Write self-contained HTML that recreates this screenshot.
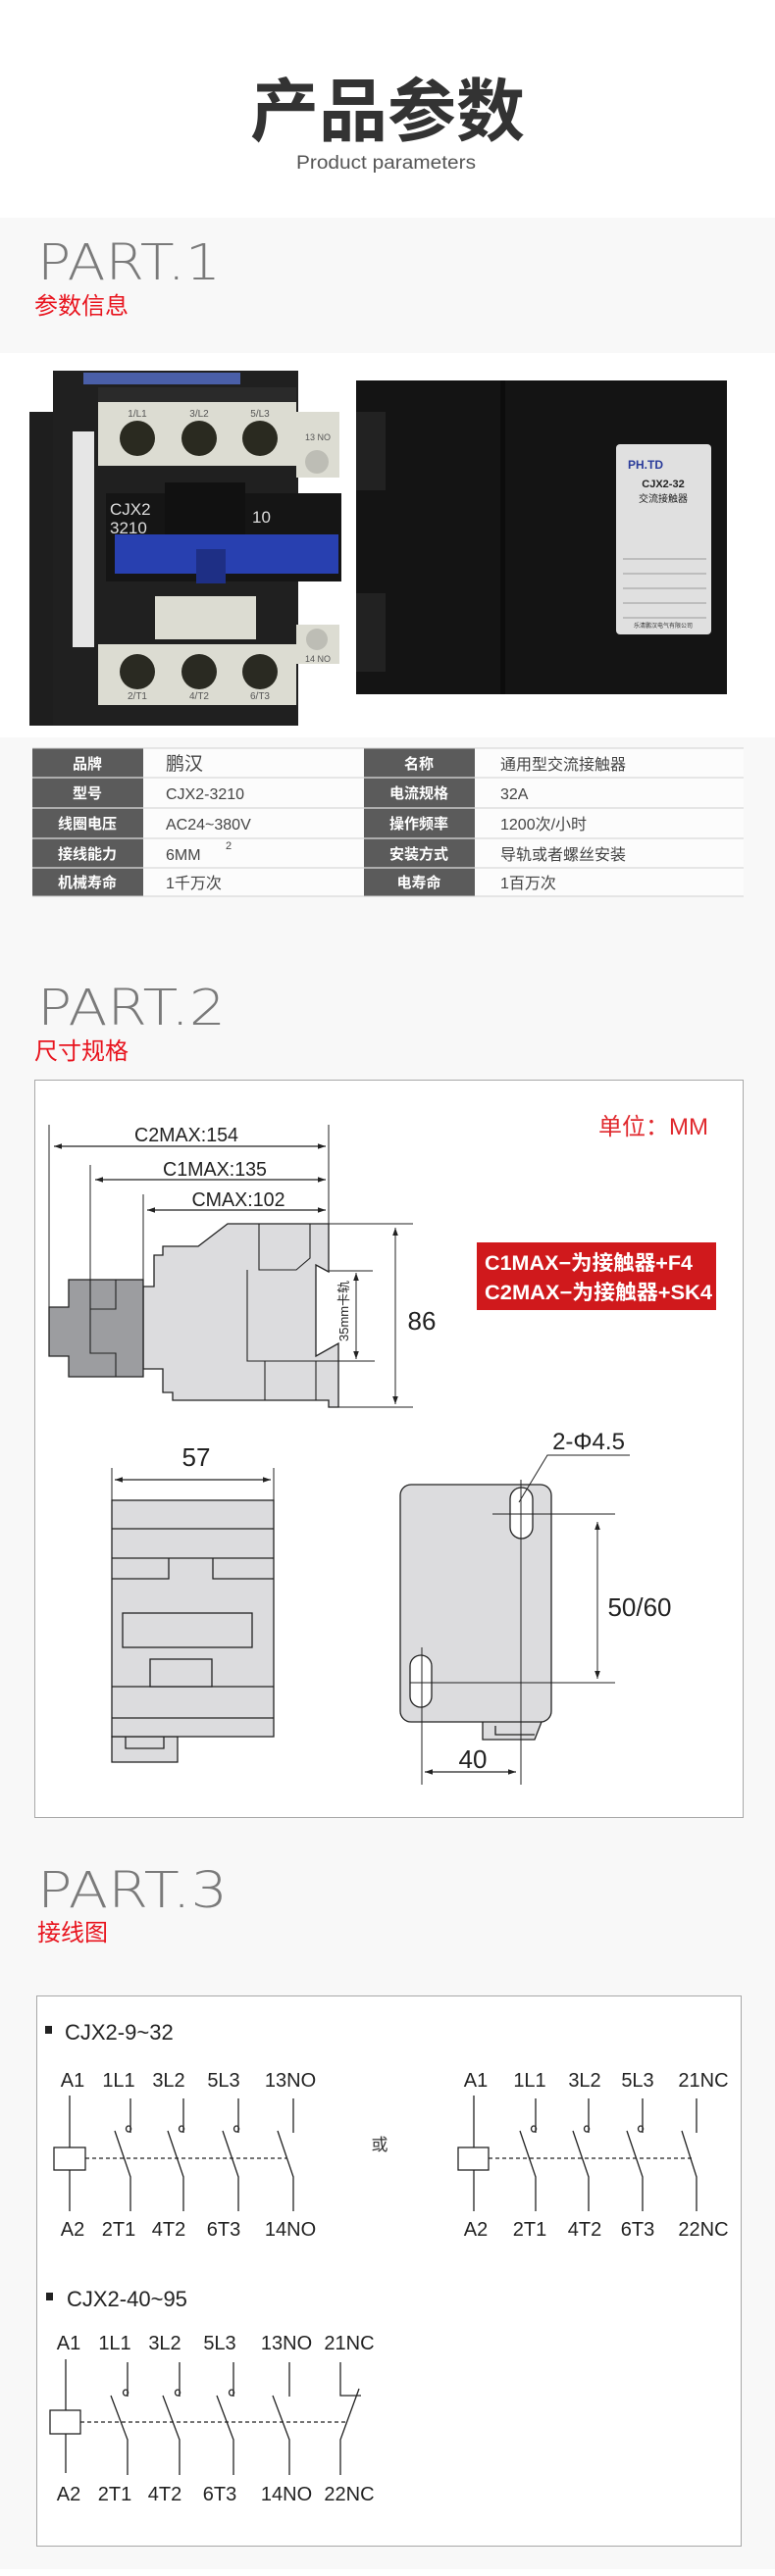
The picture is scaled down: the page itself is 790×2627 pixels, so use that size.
<!DOCTYPE html>
<html><head><meta charset="utf-8">
<style>
html,body{margin:0;padding:0;background:#fff;}
svg{display:block;}
.n{font-family:"Liberation Sans",Arial,sans-serif;}
.c{font-family:"Liberation Sans","Noto Sans CJK SC",sans-serif;}
.p{font-family:"DejaVu Sans","Liberation Sans",sans-serif;font-weight:200;}
</style></head>
<body>
<svg width="790" height="2627" viewBox="0 0 790 2627" xmlns="http://www.w3.org/2000/svg">
<defs>
<marker id="ar" viewBox="0 0 10 10" refX="10" refY="5" markerWidth="14" markerHeight="8" orient="auto-start-reverse" markerUnits="userSpaceOnUse"><path d="M0,1.5 L10,5 L0,8.5 z" fill="#222"/></marker>
</defs>
<rect x="0" y="0" width="790" height="2627" fill="#fff"/>
<rect x="0" y="222" width="790" height="2398" fill="#f8f8f8"/>

<text x="395" y="138" text-anchor="middle" class="c" font-size="70" font-weight="bold" fill="#333">产品参数</text>
<text x="302" y="172" textLength="183" lengthAdjust="spacingAndGlyphs" class="c" font-size="19" fill="#555">Product parameters</text>

<text x="38" y="285" textLength="187" lengthAdjust="spacingAndGlyphs" class="p" font-size="51" fill="#7a7a7a">PART.1</text>
<text x="35" y="320" class="c" font-size="24" fill="#e8141e">参数信息</text>

<rect x="0" y="360" width="790" height="392" fill="#fff"/>
<g>
 <rect x="30" y="420" width="28" height="320" fill="#1e1e1e"/>
 <rect x="54" y="378" width="250" height="362" fill="#202020"/>
 <rect x="74" y="440" width="22" height="220" fill="#e6e6e6"/>
 <rect x="85" y="380" width="160" height="12" fill="#4a5fa8"/>
 <rect x="100" y="395" width="202" height="15" fill="#2a2a2a"/>
 <rect x="100" y="410" width="202" height="65" fill="#dcdcd2"/>
 <text x="140" y="425" text-anchor="middle" class="c" font-size="10" fill="#555">1/L1</text>
 <text x="203" y="425" text-anchor="middle" class="c" font-size="10" fill="#555">3/L2</text>
 <text x="265" y="425" text-anchor="middle" class="c" font-size="10" fill="#555">5/L3</text>
 <circle cx="140" cy="447" r="18" fill="#2a2a20"/><circle cx="203" cy="447" r="18" fill="#2a2a20"/><circle cx="265" cy="447" r="18" fill="#2a2a20"/>
 <rect x="302" y="420" width="44" height="67" fill="#dcdcd2"/>
 <text x="324" y="449" text-anchor="middle" class="c" font-size="9" fill="#555">13 NO</text>
 <circle cx="323" cy="471" r="12" fill="#bdbdb5"/>
 <rect x="108" y="503" width="240" height="90" fill="#151515"/>
 <rect x="168" y="492" width="82" height="60" fill="#111"/>
 <text x="112" y="525" class="c" font-size="17" fill="#ddd">CJX2</text>
 <text x="112" y="544" class="c" font-size="17" fill="#ddd">3210</text>
 <text x="257" y="533" class="c" font-size="17" fill="#ddd">10</text>
 <rect x="117" y="545" width="228" height="40" fill="#2840b0"/>
 <rect x="200" y="560" width="30" height="35" fill="#1e2f85"/>
 <rect x="158" y="608" width="103" height="44" fill="#dcdcd2"/>
 <rect x="100" y="657" width="202" height="62" fill="#dcdcd2"/>
 <circle cx="140" cy="685" r="18" fill="#2a2a22"/><circle cx="203" cy="685" r="18" fill="#2a2a22"/><circle cx="265" cy="685" r="18" fill="#2a2a22"/>
 <text x="140" y="713" text-anchor="middle" class="c" font-size="10" fill="#555">2/T1</text>
 <text x="203" y="713" text-anchor="middle" class="c" font-size="10" fill="#555">4/T2</text>
 <text x="265" y="713" text-anchor="middle" class="c" font-size="10" fill="#555">6/T3</text>
 <rect x="302" y="637" width="44" height="40" fill="#dcdcd2"/>
 <circle cx="323" cy="652" r="11" fill="#bdbdb5"/>
 <text x="324" y="675" text-anchor="middle" class="c" font-size="9" fill="#555">14 NO</text>
 <rect x="363" y="388" width="378" height="320" fill="#141414"/>
 <rect x="363" y="420" width="30" height="80" fill="#222"/>
 <rect x="363" y="605" width="30" height="80" fill="#222"/>
 <rect x="510" y="388" width="5" height="320" fill="#0c0c0c"/>
 <rect x="628" y="453" width="97" height="194" rx="4" fill="#e0e0e0"/>
 <text x="640" y="478" class="c" font-size="12" font-weight="bold" fill="#2a3b9a">PH.TD</text>
 <text x="676" y="497" text-anchor="middle" class="c" font-size="11" font-weight="bold" fill="#222">CJX2-32</text>
 <text x="676" y="512" text-anchor="middle" class="c" font-size="10" fill="#222">交流接触器</text>
 <path d="M635 570 H720 M635 585 H720 M635 600 H720 M635 615 H720 M635 630 H720" stroke="#555" stroke-width="0.6"/>
 <text x="676" y="640" text-anchor="middle" class="c" font-size="6" fill="#333">乐清鹏汉电气有限公司</text>
</g>

<g class="c">
 <rect x="33" y="763" width="113" height="151" fill="#5b5b5b"/>
 <rect x="371" y="763" width="113" height="151" fill="#5b5b5b"/>
 <rect x="146" y="763" width="225" height="151" fill="#fcfcfc"/>
 <rect x="484" y="763" width="274" height="151" fill="#fcfcfc"/>
 <path d="M33 763 H758 M33 793 H758 M33 824 H758 M33 855 H758 M33 885 H758 M33 914 H758" stroke="#cfcfcf" stroke-width="1"/>
 <path d="M33 793 H146 M33 824 H146 M33 855 H146 M33 885 H146 M371 793 H484 M371 824 H484 M371 855 H484 M371 885 H484" stroke="#fff" stroke-width="1"/>
 <g font-size="15" font-weight="bold" fill="#fff" text-anchor="middle">
  <text x="89" y="784">品牌</text><text x="89" y="814">型号</text><text x="89" y="845">线圈电压</text><text x="89" y="876">接线能力</text><text x="89" y="905">机械寿命</text>
  <text x="427" y="784">名称</text><text x="427" y="814">电流规格</text><text x="427" y="845">操作频率</text><text x="427" y="876">安装方式</text><text x="427" y="905">电寿命</text>
 </g>
 <g font-size="16" fill="#444">
  <text x="169" y="785" font-size="19">鹏汉</text><text x="169" y="815">CJX2-3210</text><text x="169" y="846">AC24~380V</text><text x="169" y="877">6MM</text><text x="230" y="866" font-size="11">2</text><text x="169" y="906">1千万次</text>
  <text x="510" y="785">通用型交流接触器</text><text x="510" y="815">32A</text><text x="510" y="846">1200次/小时</text><text x="510" y="877">导轨或者螺丝安装</text><text x="510" y="906">1百万次</text>
 </g>
</g>

<text x="38" y="1045" textLength="192" lengthAdjust="spacingAndGlyphs" class="p" font-size="51" fill="#7a7a7a">PART.2</text>
<text x="35" y="1080" class="c" font-size="24" fill="#e8141e">尺寸规格</text>
<rect x="35.5" y="1101.5" width="722" height="752" fill="#fff" stroke="#a8a8a8" stroke-width="1"/>

<g stroke="#222" stroke-width="1" fill="none">
 <path d="M50 1147 V1333 M92 1188 V1305 M146 1218 V1312 M335 1147 V1248"/>
 <path d="M232 1248 H421 M335 1435 H421 M335 1296 H380 M345 1388 H382"/>
 <path d="M55 1169 H332" marker-start="url(#ar)" marker-end="url(#ar)" stroke-width="1.2"/>
 <path d="M97 1203 H332" marker-start="url(#ar)" marker-end="url(#ar)" stroke-width="1.2"/>
 <path d="M150 1234 H332" marker-start="url(#ar)" marker-end="url(#ar)" stroke-width="1.2"/>
 <path d="M403 1252 V1432" marker-start="url(#ar)" marker-end="url(#ar)"/>
 <path d="M363 1298 V1386" marker-start="url(#ar)" marker-end="url(#ar)"/>
</g>
<g class="n" font-size="20" fill="#222" text-anchor="middle">
 <text x="190" y="1164" textLength="106" lengthAdjust="spacingAndGlyphs">C2MAX:154</text>
 <text x="219" y="1199" textLength="106" lengthAdjust="spacingAndGlyphs">C1MAX:135</text>
 <text x="243" y="1230" textLength="95" lengthAdjust="spacingAndGlyphs">CMAX:102</text>
</g>
<polygon points="146,1312 157,1312 157,1280 166,1280 166,1271 202,1271 232,1248 335,1248 335,1297 322,1290 322,1383 345,1370 345,1435 335,1435 335,1428 176,1428 176,1420 166,1420 166,1396 146,1396" fill="#dcdcde" stroke="#222" stroke-width="1.3"/>
<path d="M264 1248 V1295 H302 L316 1283 V1248 M252 1295 V1388 H345 M270 1388 V1428 M322 1388 V1428" fill="none" stroke="#222" stroke-width="1.1"/>
<polygon points="70,1305 146,1305 146,1404 70,1404 70,1383 50,1383 50,1333 70,1333" fill="#9c9da0" stroke="#222" stroke-width="1.3"/>
<path d="M92 1305 V1380 H118 V1404 M118 1305 V1335 H92" fill="none" stroke="#222" stroke-width="1.1"/>
<text x="0" y="0" transform="translate(355,1368) rotate(-90)" class="c" font-size="13" fill="#222">35mm卡轨</text>
<text x="430" y="1356" text-anchor="middle" class="n" font-size="26" fill="#222">86</text>
<text x="610" y="1157" class="c" font-size="24" fill="#e0282d">单位：MM</text>
<rect x="486" y="1267" width="244" height="69" fill="#d0191c"/>
<text x="494" y="1295" textLength="212" lengthAdjust="spacingAndGlyphs" class="c" font-size="21" font-weight="bold" fill="#fff">C1MAX−为接触器+F4</text>
<text x="494" y="1325" textLength="232" lengthAdjust="spacingAndGlyphs" class="c" font-size="21" font-weight="bold" fill="#fff">C2MAX−为接触器+SK4</text>

<g stroke="#222" stroke-width="1.3" fill="#dcdcde">
 <rect x="114" y="1771" width="67" height="26"/>
 <rect x="114" y="1530" width="165" height="241"/>
 <path d="M114 1559 H279 M114 1589 H279 M114 1720 H279 M114 1752 H279" fill="none"/>
 <path d="M114 1610 H172 V1589 M279 1610 H217 V1589" fill="none"/>
 <rect x="125" y="1645" width="132" height="35"/>
 <rect x="153" y="1692" width="63" height="28"/>
 <path d="M128 1771 V1783 H167 V1771" fill="none"/>
</g>
<path d="M114 1497 V1530 M279 1497 V1530" stroke="#222" stroke-width="1"/>
<path d="M117 1509 H276" stroke="#222" stroke-width="1.2" marker-start="url(#ar)" marker-end="url(#ar)"/>
<text x="200" y="1495" text-anchor="middle" class="n" font-size="26" fill="#222">57</text>

<g stroke="#222" stroke-width="1.3">
 <path d="M492 1756 V1774 H545 L552 1756" fill="#dcdcde"/>
 <path d="M505 1760 V1769 H545" fill="none"/>
 <rect x="408" y="1514" width="154" height="242" rx="11" fill="#dcdcde"/>
 <rect x="520" y="1517" width="23" height="52" rx="11.5" fill="#fff"/>
 <rect x="418" y="1688" width="22" height="53" rx="11" fill="#fff"/>
</g>
<g stroke="#222" stroke-width="1" fill="none">
 <path d="M531 1509 V1820 M430 1680 V1820 M502 1544 H627 M418 1716 H627"/>
 <path d="M529 1532 L558 1484 H642"/>
 <path d="M609 1552 V1712" marker-start="url(#ar)" marker-end="url(#ar)"/>
 <path d="M433 1807 H526" marker-start="url(#ar)" marker-end="url(#ar)" stroke-width="1.2"/>
</g>
<text x="600" y="1478" text-anchor="middle" class="n" font-size="24" fill="#222">2-Φ4.5</text>
<text x="652" y="1648" text-anchor="middle" class="n" font-size="26" fill="#222">50/60</text>
<text x="482" y="1803" text-anchor="middle" class="n" font-size="26" fill="#222">40</text>

<text x="38" y="1945" textLength="194" lengthAdjust="spacingAndGlyphs" class="p" font-size="51" fill="#7a7a7a">PART.3</text>
<text x="38" y="1979" class="c" font-size="24" fill="#e8141e">接线图</text>
<rect x="37.5" y="2035.5" width="718" height="561" fill="#fff" stroke="#a8a8a8" stroke-width="1"/>

<rect x="46" y="2066" width="7" height="8" fill="#222"/>
<text x="66" y="2080" class="n" font-size="22" fill="#222">CJX2-9~32</text>
<g class="n" font-size="20" fill="#222" text-anchor="middle">
 <text x="74" y="2128">A1</text><text x="121" y="2128">1L1</text><text x="172" y="2128">3L2</text><text x="228" y="2128">5L3</text><text x="296" y="2128">13NO</text>
 <text x="485" y="2128">A1</text><text x="540" y="2128">1L1</text><text x="596" y="2128">3L2</text><text x="650" y="2128">5L3</text><text x="717" y="2128">21NC</text>
 <text x="74" y="2280">A2</text><text x="121" y="2280">2T1</text><text x="172" y="2280">4T2</text><text x="228" y="2280">6T3</text><text x="296" y="2280">14NO</text>
 <text x="485" y="2280">A2</text><text x="540" y="2280">2T1</text><text x="596" y="2280">4T2</text><text x="650" y="2280">6T3</text><text x="717" y="2280">22NC</text>
</g>
<text x="387" y="2193" text-anchor="middle" class="c" font-size="17" fill="#333">或</text>
<g stroke="#222" stroke-width="1.3" fill="none">
 <path d="M71 2137 V2190 M71 2213 V2255"/>
 <rect x="55" y="2190" width="32" height="23" fill="#fff"/>
 <path d="M87 2201 H292" stroke-dasharray="4,3"/>
 <path d="M133 2140 V2175 M131 2168 a2.5 3 0 1 0 0.1 0 M117 2173 L133 2220 V2255"/>
 <path d="M187 2140 V2175 M185 2168 a2.5 3 0 1 0 0.1 0 M171 2173 L187 2220 V2255"/>
 <path d="M243 2140 V2175 M241 2168 a2.5 3 0 1 0 0.1 0 M227 2173 L243 2220 V2255"/>
 <path d="M299 2140 V2175 M283 2173 L299 2220 V2255"/>
 <path d="M483 2137 V2190 M483 2213 V2255"/>
 <rect x="467" y="2190" width="31" height="23" fill="#fff"/>
 <path d="M498 2201 H705" stroke-dasharray="4,3"/>
 <path d="M546 2140 V2175 M544 2168 a2.5 3 0 1 0 0.1 0 M530 2173 L546 2220 V2255"/>
 <path d="M600 2140 V2175 M598 2168 a2.5 3 0 1 0 0.1 0 M584 2173 L600 2220 V2255"/>
 <path d="M655 2140 V2175 M653 2168 a2.5 3 0 1 0 0.1 0 M639 2173 L655 2220 V2255"/>
 <path d="M710 2140 V2175 M695 2173 L710 2220 V2255"/>
</g>

<rect x="47" y="2338" width="7" height="8" fill="#222"/>
<text x="68" y="2352" class="n" font-size="22" fill="#222">CJX2-40~95</text>
<g class="n" font-size="20" fill="#222" text-anchor="middle">
 <text x="70" y="2396">A1</text><text x="117" y="2396">1L1</text><text x="168" y="2396">3L2</text><text x="224" y="2396">5L3</text><text x="292" y="2396">13NO</text><text x="356" y="2396">21NC</text>
 <text x="70" y="2550">A2</text><text x="117" y="2550">2T1</text><text x="168" y="2550">4T2</text><text x="224" y="2550">6T3</text><text x="292" y="2550">14NO</text><text x="356" y="2550">22NC</text>
</g>
<g stroke="#222" stroke-width="1.3" fill="none">
 <path d="M67 2406 V2458 M67 2482 V2522"/>
 <rect x="51" y="2458" width="31" height="24" fill="#fff"/>
 <path d="M82 2470 H355" stroke-dasharray="4,3"/>
 <path d="M130 2409 V2444 M128 2437 a2.5 3 0 1 0 0.1 0 M113 2443 L130 2488 V2524"/>
 <path d="M183 2409 V2444 M181 2437 a2.5 3 0 1 0 0.1 0 M166 2443 L183 2488 V2524"/>
 <path d="M238 2409 V2444 M236 2437 a2.5 3 0 1 0 0.1 0 M221 2443 L238 2488 V2524"/>
 <path d="M295 2409 V2444 M278 2443 L295 2488 V2524"/>
 <path d="M347 2409 V2443 H368 M366 2436 L347 2488 V2524"/>
</g>
</svg>
</body></html>
